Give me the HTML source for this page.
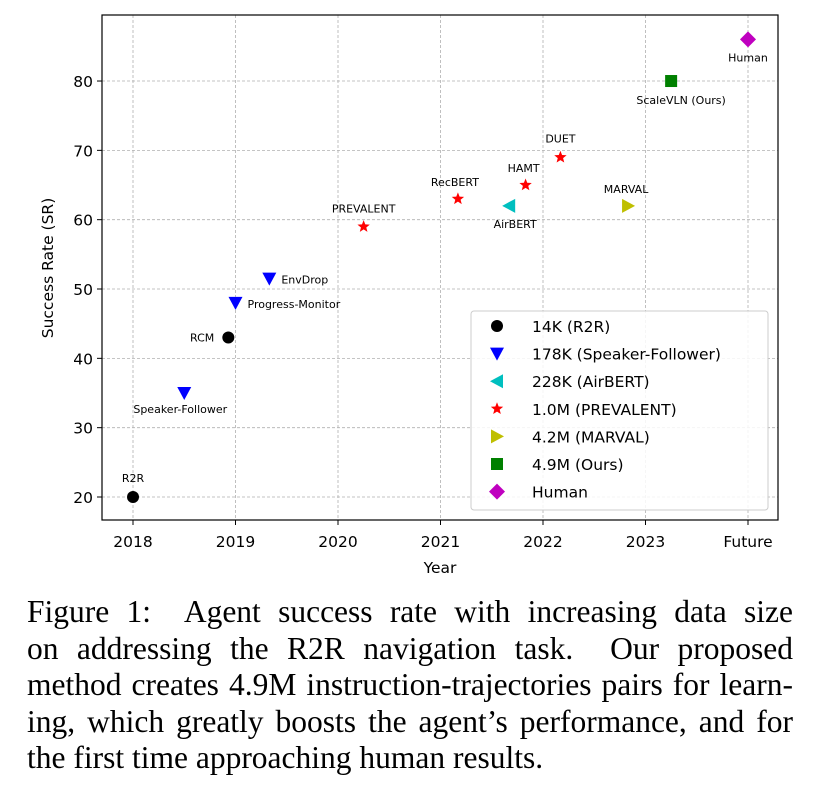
<!DOCTYPE html>
<html><head><meta charset="utf-8"><style>
body{margin:0;background:#fff;width:816px;height:792px;overflow:hidden;font-family:"Liberation Sans",sans-serif}
#cap{position:absolute;left:27px;top:594px;width:766px;font-family:"Liberation Serif",serif;font-size:31.5px;line-height:36.5px;color:#000}
#cap div{text-align:justify;text-align-last:justify;white-space:nowrap;word-spacing:-3px}
#cap div.last{text-align-last:left;word-spacing:0}
</style></head><body>
<svg id="chart" width="816" height="590" style="position:absolute;left:0;top:0" font-family="DejaVu Sans, sans-serif"></svg>
<div id="cap">
<div>Figure 1:&nbsp; Agent success rate with increasing data size</div>
<div>on addressing the R2R navigation task.&nbsp; Our proposed</div>
<div>method creates 4.9M instruction-trajectories pairs for learn-</div>
<div>ing, which greatly boosts the agent’s performance, and for</div>
<div class="last">the first time approaching human results.</div>
</div>
<script>
const names=["R2R","Speaker-Follower","RCM","Progress-Monitor","EnvDrop","PREVALENT","RecBERT","AirBERT","HAMT","DUET","MARVAL","ScaleVLN (Ours)","Human"];
const years=[2018,2018.5,2018.93,2019,2019.33,2020.25,2021.17,2021.67,2021.83,2022.17,2022.83,2023.25,2024];
const rates=[20,35,43,48,51.5,59,63,62,65,69,62,80,86];
const groups=[0,1,0,1,1,3,3,2,3,3,4,5,6];
const xTicks=[2018,2019,2020,2021,2022,2023,2024];
const xTickLabels=["2018","2019","2020","2021","2022","2023","Future"];
const yTicks=[20,30,40,50,60,70,80];
const legendLabels=["14K (R2R)","178K (Speaker-Follower)","228K (AirBERT)","1.0M (PREVALENT)","4.2M (MARVAL)","4.9M (Ours)","Human"];
const colors=["#000","#00f","#00bfbf","#f00","#bfbf00","#008000","#bf00bf"];
const shapes=["circle","down","left","star","right","square","diamond"];
const labelPos=[[0,-15,"middle"],[-4,20,"middle"],[-14,4,"end"],[12,5,"start"],[12,5,"start"],[0,-14,"middle"],[-3,-13,"middle"],[6,22,"middle"],[-2,-13,"middle"],[0,-15,"middle"],[-2,-13,"middle"],[10,23,"middle"],[0,22,"middle"]];

const svg=document.getElementById('chart');const NS="http://www.w3.org/2000/svg";
const L=102,R=778,T=15,B=520;
const xs=v=>133+(v-2018)*102.5;
const ys=v=>497-(v-20)*6.933;
function el(tag,a,p){const e=document.createElementNS(NS,tag);for(const k in a)e.setAttribute(k,a[k]);(p||svg).appendChild(e);return e;}
function marker(shape,cx,cy,c,s){
  if(shape=="circle")return el('circle',{cx,cy,r:6*s,fill:c});
  if(shape=="square")return el('rect',{x:cx-6*s,y:cy-6*s,width:12*s,height:12*s,fill:c});
  let p;
  if(shape=="down")p=[[-7,-6],[7,-6],[0,7]];
  if(shape=="left")p=[[-7,0],[6,-7],[6,7]];
  if(shape=="right")p=[[7,0],[-6,-7],[-6,7]];
  if(shape=="diamond")p=[[0,-8],[8,0],[0,8],[-8,0]];
  if(shape=="star"){p=[];for(let i=0;i<10;i++){const r=i%2?2.8:6.5,a=-Math.PI/2+i*Math.PI/5;p.push([r*Math.cos(a),r*Math.sin(a)]);}}
  return el('polygon',{points:p.map(q=>(cx+q[0]*s)+","+(cy+q[1]*s)).join(" "),fill:c});
}
xTicks.forEach((t,i)=>{const x=xs(t);
  const g=el('line',{x1:x,x2:x,y1:T,y2:B,stroke:"#b0b0b0","stroke-dasharray":"3,2","stroke-width":0.8});
  
  el('line',{x1:x,x2:x,y1:B,y2:B+5,stroke:"#000"});
  const tx=el('text',{x:x,y:B+27,"text-anchor":"middle","font-size":15.5});tx.textContent=xTickLabels[i];
  
});
yTicks.forEach(t=>{const y=ys(t);
  const g=el('line',{x1:L,x2:R,y1:y,y2:y,stroke:"#b0b0b0","stroke-dasharray":"3,2","stroke-width":0.8});
  
  el('line',{x1:L-5,x2:L,y1:y,y2:y,stroke:"#000"});
  const tx=el('text',{x:L-9,y:y+6,"text-anchor":"end","font-size":15.5});tx.textContent=t;
  
});
const fr=el('rect',{x:L,y:T,width:R-L,height:B-T,fill:"none",stroke:"#000","stroke-width":1.2});

let t=el('text',{x:440,y:573,"text-anchor":"middle","font-size":15.5});t.textContent="Year";

t=el('text',{x:0,y:0,"text-anchor":"middle","font-size":15.5,transform:"translate(53,268) rotate(-90)"});t.textContent="Success Rate (SR)";

names.forEach((n,i)=>{const cx=xs(years[i]),cy=ys(rates[i]);
  const m=marker(shapes[groups[i]],cx,cy,colors[groups[i]],1);
  
  
  const lp=labelPos[i];
  const lb=el('text',{x:cx+lp[0],y:cy+lp[1],"text-anchor":lp[2],"font-size":11});lb.textContent=n;
  
});
const lg=el('rect',{x:471,y:311,width:297,height:199,rx:3,fill:"#fff","fill-opacity":0.85,stroke:"#ccc"});

legendLabels.forEach((lab,i)=>{const y=326+i*27.6;
  marker(shapes[i],497,y,colors[i],1);
  const tx=el('text',{x:532,y:y+6,"font-size":15.5});tx.textContent=lab;
  
});
</script>
</body></html>
